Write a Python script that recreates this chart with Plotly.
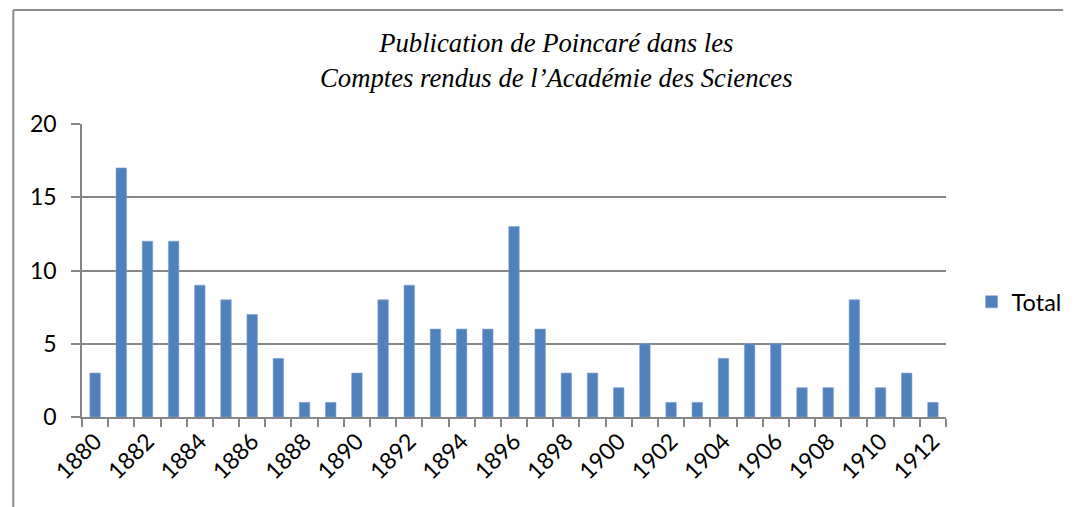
import plotly.graph_objects as go

years = list(range(1880, 1913))
counts = [3, 17, 12, 12, 9, 8, 7, 4, 1, 1, 3, 8, 9, 6, 6, 6, 13, 6, 3, 3, 2, 5, 1, 1, 4, 5, 5, 2, 2, 8, 2, 3, 1]
tick_years = list(range(1880, 1913, 2))
tick_labels = [str(y) for y in tick_years]
series_name = "Total"
title_lines = ["Publication de Poincaré dans les", "Comptes rendus de l’Académie des Sciences"]

# the captured page comes out slightly compressed horizontally; compensate
S = 1 / 0.985
W, H = 1079, 507

def sx(p):
    return p * S

L, R, T, B = round(sx(81)), round(sx(946)), 124, 417

fig = go.Figure()
fig.add_trace(go.Bar(
    x=years, y=counts, name=series_name, width=0.4,
    marker=dict(color="#4F81BD", line=dict(color="#7FA3D0", width=0.6)),
    showlegend=True,
))

gray = "#868686"
sans = "Lato, Open Sans, sans-serif"
fig.update_layout(
    width=W, height=H, autosize=False,
    margin=dict(l=L, r=W - R, t=T, b=H - B, pad=0),
    paper_bgcolor="white", plot_bgcolor="white",
    font=dict(family=sans, size=23, color="black"),
    showlegend=True,
    legend=dict(x=(986 - L) / (R - L), y=(B - 302) / (B - T), xanchor="left", yanchor="middle",
                font=dict(size=23.5, family=sans), itemwidth=30,
                bgcolor="rgba(0,0,0,0)"),
    bargap=0.6,
)
fig.update_xaxes(
    range=[1879.5, 1912.5],
    tickmode="array", tickvals=tick_years, ticktext=tick_labels,
    tickangle=-45, ticks="", showgrid=False,
    showline=True, linecolor=gray, linewidth=1.5,
    tickfont=dict(size=23, family=sans),
    minor=dict(tickmode="array", tickvals=[y - 0.5 for y in years] + [1912.5],
               ticks="outside", ticklen=8, tickcolor=gray, tickwidth=1.5, showgrid=False),
    zeroline=False,
)
fig.update_yaxes(
    range=[0, 20], dtick=5, tick0=0,
    showgrid=True, gridcolor=gray, gridwidth=1.5,
    showline=True, linecolor=gray, linewidth=1.5,
    ticks="outside", ticklen=9, tickcolor=gray, tickwidth=1.5,
    ticklabelstandoff=10,
    tickfont=dict(size=23, family=sans),
    zeroline=False,
)

def px_x(p):
    return (sx(p) - L) / (R - L)

def px_y(p):
    return (B - p) / (B - T)

# outer chart border (left and top)
fig.add_shape(type="line", xref="paper", yref="paper",
              x0=px_x(12), x1=px_x(12), y0=px_y(507), y1=px_y(10),
              line=dict(color="#8c8c8c", width=2))
fig.add_shape(type="line", xref="paper", yref="paper",
              x0=px_x(12), x1=(W - L) / (R - L), y0=px_y(10), y1=px_y(10),
              line=dict(color="#8c8c8c", width=2))

fig.add_annotation(
    text="<br>".join(title_lines), xref="paper", yref="paper",
    x=px_x(556), y=px_y(61), xanchor="center", yanchor="middle",
    showarrow=False, align="center",
    font=dict(family="Liberation Serif, Times New Roman, serif", size=26.7, color="black",
              style="italic"),
)

post = (
    "document.documentElement.style.overflow='hidden';"
    "document.body.style.margin='0';document.body.style.overflow='hidden';"
)
fig.write_html("out.html",
               config={"displayModeBar": False, "responsive": False},
               post_script=post)
